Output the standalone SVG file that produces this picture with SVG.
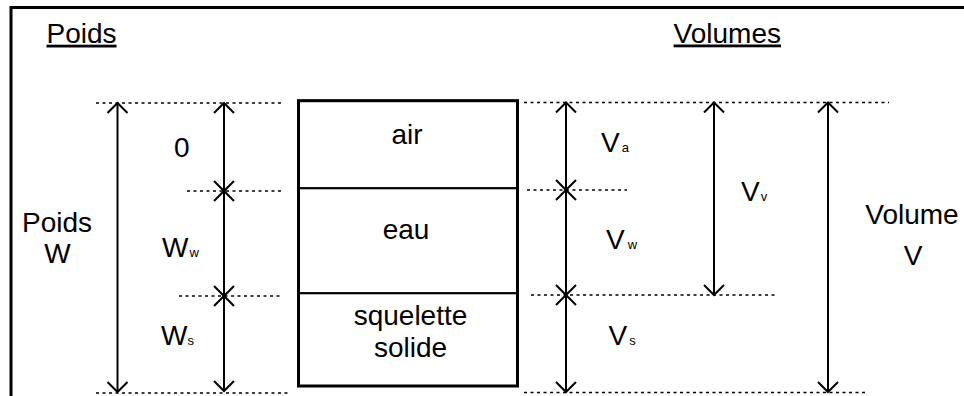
<svg xmlns="http://www.w3.org/2000/svg" width="964" height="396" viewBox="0 0 964 396">
<style>
text{font-family:"Liberation Sans",Arial,sans-serif;fill:#000}
.lbl{font-size:28px}
.mid{text-anchor:middle}
.sub{font-size:13px}
.arrow{stroke:#000;stroke-width:2;fill:none;marker-start:url(#ah);marker-end:url(#ah)}
.dot{stroke:#000;stroke-width:1.6;stroke-dasharray:3 3.5;fill:none}
.cell{fill:#fff;stroke:#000;stroke-width:2}
</style>
<defs>
<marker id="ah" viewBox="-12 -12 24 24" refX="0" refY="0" markerWidth="24" markerHeight="24" markerUnits="userSpaceOnUse" orient="auto-start-reverse">
<path d="M-10,-10 L0,0 L-10,10" fill="none" stroke="#000" stroke-width="2"/>
</marker>
</defs>
<rect x="0" y="0" width="964" height="396" fill="#fff"/>
<path d="M11,400 L11,7.5 L970,7.5" fill="none" stroke="#000" stroke-width="3"/>

<g id="titles">
<text class="lbl" x="46.5" y="42.7" text-decoration="underline">Poids</text>
<text class="lbl" x="781" y="42.5" text-anchor="end" text-decoration="underline">Volumes</text>
</g>

<g id="connectors">
<line class="dot" x1="96" y1="103" x2="282" y2="103"/>
<line class="dot" x1="187" y1="191" x2="282" y2="191"/>
<line class="dot" x1="179" y1="296" x2="282" y2="296"/>
<line class="dot" x1="96" y1="393" x2="290" y2="393"/>
<line class="dot" x1="524" y1="102.5" x2="889" y2="102.5"/>
<line class="dot" x1="527" y1="190" x2="627" y2="190"/>
<line class="dot" x1="531" y1="295" x2="775" y2="295"/>
<line class="dot" x1="524" y1="392.5" x2="866" y2="392.5"/>
<line class="arrow" x1="117.5" y1="103" x2="117.5" y2="392"/>
<line class="arrow" x1="224" y1="103" x2="224" y2="191"/>
<line class="arrow" x1="224" y1="191" x2="224" y2="296"/>
<line class="arrow" x1="224" y1="296" x2="224" y2="391"/>
<line class="arrow" x1="566" y1="102.5" x2="566" y2="190"/>
<line class="arrow" x1="566" y1="190" x2="566" y2="295"/>
<line class="arrow" x1="566" y1="295" x2="566" y2="392"/>
<line class="arrow" x1="714" y1="102.5" x2="714" y2="295"/>
<line class="arrow" x1="828" y1="102.5" x2="828" y2="392"/>
</g>

<g id="soil">
<g id="air">
<rect class="cell" x="298.5" y="100.7" width="219" height="87.6"/>
<text class="lbl mid" x="407" y="144">air</text>
</g>
<g id="eau">
<rect class="cell" x="298.5" y="188.3" width="219" height="105"/>
<text class="lbl mid" x="406" y="239">eau</text>
</g>
<g id="solide">
<rect class="cell" x="298.5" y="293.3" width="219" height="92.7"/>
<text class="lbl mid" x="410.5" y="325">squelette</text>
<text class="lbl mid" x="410.5" y="357">solide</text>
</g>
<rect x="298.5" y="100.7" width="219" height="285.3" fill="none" stroke="#000" stroke-width="3"/>
</g>

<g id="label-0"><text class="lbl" x="174" y="157">0</text></g>
<g id="label-Ww"><text class="lbl" x="162" y="257">W<tspan class="sub" dx="1">w</tspan></text></g>
<g id="label-Ws"><text class="lbl" x="161" y="345">W<tspan class="sub">s</tspan></text></g>
<g id="label-PoidsW">
<text class="lbl mid" x="57" y="231.7">Poids</text>
<text class="lbl mid" x="57.5" y="263.3">W</text>
</g>
<g id="label-Va"><text class="lbl" x="601" y="151.7">V<tspan class="sub" dx="2">a</tspan></text></g>
<g id="label-Vw"><text class="lbl" x="606" y="249.3">V<tspan class="sub" dx="3">w</tspan></text></g>
<g id="label-Vs"><text class="lbl" x="608.5" y="345">V<tspan class="sub" dx="2">s</tspan></text></g>
<g id="label-Vv"><text class="lbl" x="741" y="200.7">V<tspan class="sub" dx="1">v</tspan></text></g>
<g id="label-VolumeV">
<text class="lbl mid" x="912" y="224.3">Volume</text>
<text class="lbl mid" x="913" y="265">V</text>
</g>
</svg>
